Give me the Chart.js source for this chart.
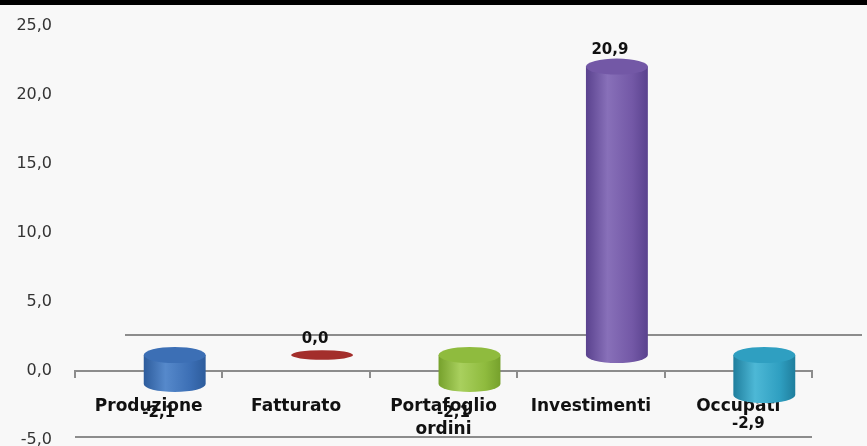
<!DOCTYPE html>
<html>
<head>
<meta charset="utf-8">
<script src="https://cdn.jsdelivr.net/npm/chart.js@4.4.1/dist/chart.umd.min.js"></script>
<style>
  html, body { margin: 0; padding: 0; background: #f8f8f8; }
  #wrap { position: relative; width: 867px; height: 446px; }
  #topband { position: absolute; left: 0; top: 0; width: 867px; height: 5px; background: #000; }
</style>
</head>
<body>
<div id="wrap">
  <canvas id="chart" width="867" height="446"></canvas>
  <div id="topband"></div>
</div>
<script>
// values
const categories = ['Produzione', 'Fatturato', ['Portafoglio', 'ordini'], 'Investimenti', 'Occupati'];
const values = [-2.1, 0.0, -2.1, 20.9, -2.9];
const yTicks = [-5, 0, 5, 10, 15, 20, 25];

// cylinder colours: [edge, highlight, top]
const barColors = [
  ['#2d5c9c', '#5689cb', '#3c6fb5'],
  ['#8a2523', '#b8403b', '#a32e2b'],
  ['#76a12c', '#a9d05e', '#8fbb3e'],
  ['#5a428e', '#8870b9', '#7358a6'],
  ['#1f7e9d', '#4db8d6', '#2f9fc1'],
];

const fmt = (v) => v.toFixed(1).replace('.', ',');

// 3D depth shift of the bar plane and the back wall
const depth = { barX: 26, barY: -16, backX: 50, backY: -36 };
const lineGray = '#8c8c8c';

function cylinder(ctx, cx, yTop, yBot, rx, ry, c) {
  const g = ctx.createLinearGradient(cx - rx, 0, cx + rx, 0);
  g.addColorStop(0, c[0]);
  g.addColorStop(0.35, c[1]);
  g.addColorStop(0.75, c[2]);
  g.addColorStop(1, c[0]);
  if (yBot - yTop > 1) {
    ctx.beginPath();
    ctx.moveTo(cx - rx, yTop);
    ctx.lineTo(cx - rx, yBot);
    ctx.ellipse(cx, yBot, rx, ry, 0, Math.PI, 0, true);
    ctx.lineTo(cx + rx, yTop);
    ctx.closePath();
    ctx.fillStyle = g;
    ctx.fill();
    ctx.beginPath();
    ctx.ellipse(cx, yTop, rx, ry, 0, 0, Math.PI * 2);
    ctx.fillStyle = c[2];
    ctx.fill();
  } else {
    ctx.beginPath();
    ctx.ellipse(cx, yTop, rx, ry * 0.6, 0, 0, Math.PI * 2);
    ctx.fillStyle = c[2];
    ctx.fill();
  }
}

const cylinderPlugin = {
  id: 'cylinders',
  beforeDatasetsDraw(chart) {
    const { ctx, chartArea: a, scales: { y } } = chart;
    ctx.save();
    ctx.strokeStyle = lineGray;
    ctx.lineWidth = 2;
    // back edge of the floor
    const yb = Math.round(y.getPixelForValue(0) + depth.backY);
    ctx.beginPath();
    ctx.moveTo(a.left + depth.backX, yb);
    ctx.lineTo(a.right + depth.backX, yb);
    ctx.stroke();
    // bottom line at the minimum
    const ym = Math.round(y.getPixelForValue(yTicks[0])) - 3;
    ctx.beginPath();
    ctx.moveTo(a.left, ym);
    ctx.lineTo(a.right, ym);
    ctx.stroke();
    ctx.restore();
  },
  afterDatasetsDraw(chart) {
    const { ctx } = chart;
    const meta = chart.getDatasetMeta(0);
    ctx.save();
    meta.data.forEach((el, i) => {
      const cx = el.x + depth.barX;
      const top = Math.min(el.y, el.base) + depth.barY;
      const bot = Math.max(el.y, el.base) + depth.barY;
      cylinder(ctx, cx, top, bot, el.width / 2, 8, barColors[i]);
    });
    ctx.restore();
  },
  afterDraw(chart) {
    const { ctx } = chart;
    const meta = chart.getDatasetMeta(0);
    ctx.save();
    ctx.font = 'bold 15px "DejaVu Sans"';
    ctx.fillStyle = '#111';
    ctx.textAlign = 'center';
    ctx.textBaseline = 'middle';
    meta.data.forEach((el, i) => {
      const v = values[i];
      if (v >= 0) ctx.fillText(fmt(v), el.x + 19, el.y - 32);
      else ctx.fillText(fmt(v), el.x + 10, el.y + 13);
    });
    ctx.restore();
  },
};

const ctx = document.getElementById('chart').getContext('2d');
const chart = new Chart(ctx, {
  type: 'bar',
  data: {
    labels: categories,
    datasets: [
      {
        data: values,
        backgroundColor: 'rgba(0,0,0,0)',
        borderWidth: 0,
        barPercentage: 0.42,
        categoryPercentage: 1,
      },
    ],
  },
  options: {
    responsive: false,
    animation: false,
    layout: { padding: { left: 0, right: 55, top: 26, bottom: 6 } },
    scales: {
      x: {
        position: { y: 0 },
        z: 1,
        grid: {
          offset: true,
          drawOnChartArea: false,
          drawTicks: true,
          tickLength: 6,
          color: lineGray,
          lineWidth: 2,
        },
        border: { display: true, color: lineGray, width: 2 },
        ticks: {
          autoSkip: false,
          maxRotation: 0,
          padding: 19,
          color: '#111',
          font: { family: 'DejaVu Sans', size: 17, weight: 'bold', lineHeight: 1.3 },
        },
      },
      y: {
        min: yTicks[0],
        max: yTicks[yTicks.length - 1],
        afterBuildTicks: (s) => { s.ticks = yTicks.map((v) => ({ value: v })); },
        afterFit: (s) => { s.width = 75; s.paddingTop = 0; s.paddingBottom = 0; },
        grid: { display: false },
        border: { display: false },
        ticks: {
          padding: 15,
          color: '#333',
          font: { family: 'DejaVu Sans', size: 16 },
          callback: (v) => fmt(v),
        },
      },
    },
    plugins: {
      legend: { display: false },
      tooltip: { enabled: false },
    },
  },
  plugins: [cylinderPlugin],
});
</script>
</body>
</html>
